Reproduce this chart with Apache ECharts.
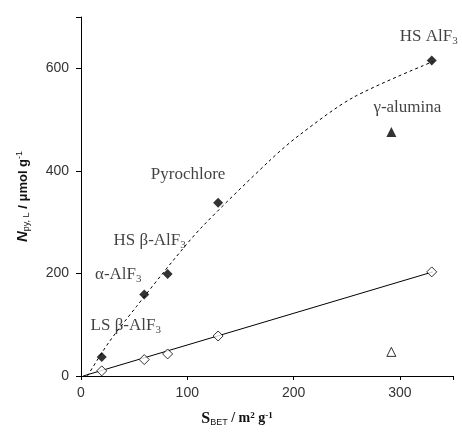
<!DOCTYPE html>
<html>
<head>
<meta charset="utf-8">
<script src="https://cdn.jsdelivr.net/npm/echarts@6/dist/echarts.min.js"></script>
<style>
  html, body { margin: 0; padding: 0; background: #fff; }
  #chart { width: 462px; height: 432px; }
</style>
</head>
<body>
<div id="chart"></div>
<script>
// filled symbols: N_py,L total (diamonds) and gamma-alumina (triangle)
const samples = ['LS β-AlF3', 'α-AlF3', 'HS β-AlF3', 'Pyrochlore', 'HS AlF3'];
const sampleX = [19.5, 59.5, 81.5, 129, 330];
const filledY = [37, 159, 199, 338, 615];
const openY = [10, 32, 43, 78, 203];
const aluminaX = [292];
const aluminaFilledY = [476];
const aluminaOpenY = [47];
// trend lines
const curveX = [6, 26, 52, 87, 114, 178, 205, 256, 331];
const curveY = [0, 65, 135, 226, 291, 421, 469, 543, 613];
const lineX = [2, 331];
const lineY = [0, 203];
const xTicks = [0, 100, 200, 300];
const yTicks = [0, 200, 400, 600];

// label offsets [dx, dy] for each sample label
const labelOffsets = [[24, -31], [-26, -20], [-18, -33], [-30, -28], [-3, -24]];

function richName(name) {
  // turn "AlF3" into rich text with subscript 3
  return name.replace(/3$/, '') + (name.endsWith('3') ? '{sub|3}' : '');
}

const serif = 'Liberation Serif';
const rich = {
  sub: { fontFamily: serif, fontSize: 11, color: '#111', padding: [9, 0, 0, 0] }
};

let myChart = echarts.init(document.getElementById('chart'));
let option = {
  animation: false,
  grid: { left: 81, right: 9, top: 17, bottom: 56 },
  xAxis: {
    type: 'value',
    min: 0, max: 350, interval: 100,
    name: '{s|S}{sb|BET}{t| / m}{sp|2}{t| g}{sp|-1}',
    nameLocation: 'middle',
    nameGap: 34,
    nameTextStyle: {
      padding: [0, 60, 0, 0],
      rich: {
        s: { fontFamily: serif, fontWeight: 'bold', fontSize: 16, color: '#111' },
        sb: { fontFamily: 'Liberation Sans', fontSize: 9, color: '#111', padding: [8, 0, 0, 0] },
        t: { fontFamily: serif, fontWeight: 'bold', fontSize: 14, color: '#111' },
        sp: { fontFamily: serif, fontWeight: 'bold', fontSize: 9, color: '#111', padding: [0, 0, 6, 0] }
      }
    },
    axisLine: { lineStyle: { color: '#000', width: 1 } },
    axisTick: { show: true, length: 4, lineStyle: { color: '#000' } },
    axisLabel: {
      margin: 10,
      fontFamily: 'Liberation Sans', fontSize: 14, color: '#333',
      formatter: v => xTicks.includes(v) ? String(v) : ''
    },
    splitLine: { show: false }
  },
  yAxis: {
    type: 'value',
    min: 0, max: 700, interval: 200,
    name: '{n|N}{sb|py, L}{t| / μmol g}{sp|-1}',
    nameLocation: 'middle',
    nameGap: 50,
    nameTextStyle: {
      rich: {
        n: { fontFamily: 'Liberation Sans', fontWeight: 'bold', fontStyle: 'italic', fontSize: 15, color: '#111' },
        sb: { fontFamily: 'Liberation Sans', fontSize: 9, color: '#111', padding: [7, 0, 0, 0] },
        t: { fontFamily: 'Liberation Sans', fontWeight: 'bold', fontSize: 13, color: '#111' },
        sp: { fontFamily: 'Liberation Sans', fontSize: 9, color: '#111', padding: [0, 0, 7, 0] }
      }
    },
    axisLine: { show: true, lineStyle: { color: '#000', width: 1 } },
    axisTick: { show: true, length: 5, lineStyle: { color: '#000' } },
    axisLabel: {
      margin: 12,
      fontFamily: 'Liberation Sans', fontSize: 14, color: '#333',
      formatter: v => yTicks.includes(v) ? String(v) : ''
    },
    splitLine: { show: false }
  },
  series: [
    {
      type: 'line',
      smooth: 0.3,
      symbol: 'none',
      data: curveX.map((x, i) => [x, curveY[i]]),
      lineStyle: { color: '#000', width: 1, type: [3, 3] },
      z: 1
    },
    {
      type: 'line',
      symbol: 'none',
      data: lineX.map((x, i) => [x, lineY[i]]),
      lineStyle: { color: '#000', width: 1 },
      z: 1
    },
    {
      type: 'scatter',
      symbol: 'diamond',
      symbolSize: 10,
      itemStyle: { color: '#000' },
      data: sampleX.map((x, i) => ({
        value: [x, filledY[i]],
        label: {
          show: true,
          formatter: richName(samples[i]),
          offset: labelOffsets[i],
          position: 'inside',
          fontFamily: serif, fontSize: 17, color: '#111',
          rich: rich
        }
      })),
      z: 3
    },
    {
      type: 'scatter',
      symbol: 'diamond',
      symbolSize: 10,
      itemStyle: { color: '#fff', borderColor: '#000', borderWidth: 1 },
      data: sampleX.map((x, i) => [x, openY[i]]),
      z: 3
    },
    {
      type: 'scatter',
      symbol: 'triangle',
      symbolSize: 10,
      itemStyle: { color: '#000' },
      data: aluminaX.map((x, i) => ({
        value: [x, aluminaFilledY[i]],
        label: {
          show: true,
          formatter: 'γ-alumina',
          offset: [16, -24],
          position: 'inside',
          fontFamily: serif, fontSize: 17, color: '#111'
        }
      })),
      z: 3
    },
    {
      type: 'scatter',
      symbol: 'triangle',
      symbolSize: 9,
      itemStyle: { color: '#fff', borderColor: '#000', borderWidth: 1 },
      data: aluminaX.map((x, i) => [x, aluminaOpenY[i]]),
      z: 3
    }
  ]
};
myChart.setOption(option);
</script>
</body>
</html>
